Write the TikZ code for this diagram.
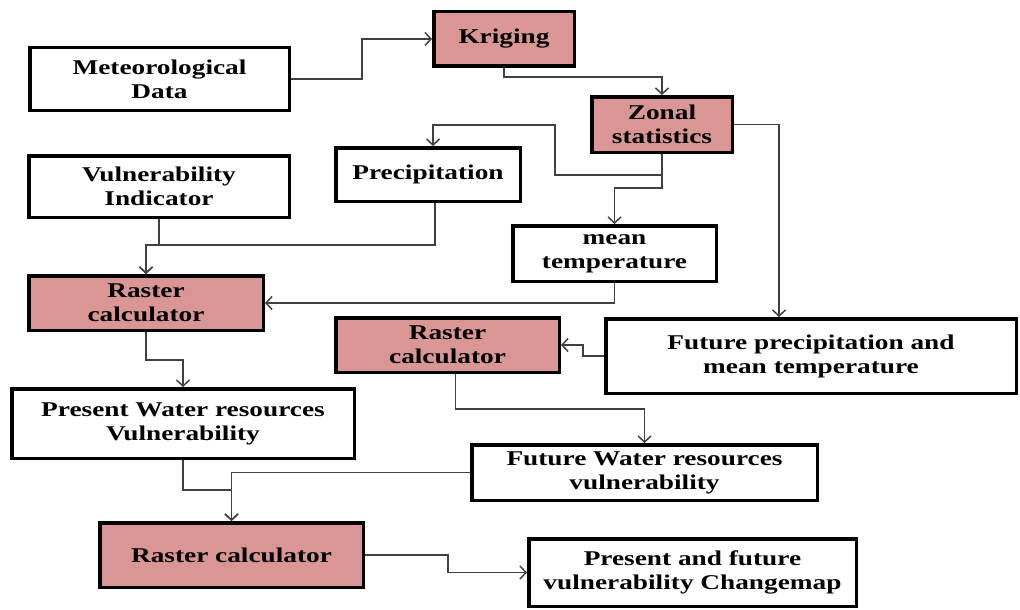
\documentclass[tikz,border=0pt]{standalone}
\usepackage{fontspec}
\usepackage{tikz}
\usepackage{xcolor}
\usetikzlibrary{positioning,arrows.meta}
\newfontfamily\boxfont{Liberation Serif}[FakeStretch=1.3]
\definecolor{toolpink}{HTML}{D99694}
\definecolor{linkgray}{HTML}{404040}
\begin{document}
\begin{tikzpicture}[x=1pt, y=-1pt, >={Straight Barb[length=6pt,width=13pt]},
   databox/.style={draw, line width=3.5pt, fill=white, align=center, inner sep=2pt,
      font=\boxfont\bfseries\fontsize{21}{24}\selectfont},
   toolbox/.style={databox, fill=toolpink},
   link/.style={draw=linkgray, line width=1.5pt}]
   \useasboundingbox (0,0) rectangle (1020,610);

   \node[databox, minimum width=259.5pt, minimum height=62.5pt] (met) at (159.5,79) {Meteorological\\Data};
   \node[toolbox, minimum width=140.5pt, minimum height=54.5pt] (krig) at (504,39) {Kriging};
   \node[toolbox, minimum width=140.5pt, minimum height=55.5pt] (zonal) at (662,124.5) {Zonal\\statistics};
   \node[databox, minimum width=260.5pt, minimum height=61.5pt] (vuln) at (159,186.5) {Vulnerability\\Indicator};
   \node[databox, minimum width=184.5pt, minimum height=53.5pt] (precip) at (428,174.5) {Precipitation};
   \node[databox, minimum width=203.5pt, minimum height=55.5pt] (meantemp) at (614.5,253.5) {mean\\temperature};
   \node[toolbox, minimum width=234.5pt, minimum height=54.5pt] (rc1) at (146,303) {Raster\\calculator};
   \node[toolbox, minimum width=223.5pt, minimum height=54.5pt] (rc2) at (447.5,345) {Raster\\calculator};
   \node[databox, minimum width=410.5pt, minimum height=74.5pt] (futprecip) at (811,356) {Future precipitation and\\mean temperature};
   \node[databox, minimum width=342.5pt, minimum height=69.5pt] (prewater) at (183,423.5) {Present Water resources\\Vulnerability};
   \node[databox, minimum width=345.5pt, minimum height=55.5pt] (futwater) at (644.5,472.5) {Future Water resources\\vulnerability};
   \node[toolbox, minimum width=263.5pt, minimum height=64.5pt] (rc3) at (231.5,555) {Raster calculator};
   \node[databox, minimum width=327.5pt, minimum height=67.5pt] (change) at (692.5,572.5) {Present and future\\vulnerability Changemap};

   \draw[link, ->] (met.east) -- ++(71,0) |- (krig.west);
   \draw[link, ->] (krig.south) -- ++(0,9) -| (zonal.north);
   \draw[link, ->] (zonal.south) -- ++(0,21) -| (555,125) -| ([xshift=5pt]precip.north);
   \draw[link, ->] (zonal.south) -- ++(0,34) -| (meantemp.north);
   \draw[link, ->] (zonal.east) -- ++(45,0) coordinate (zr) -- (zr |- futprecip.north);
   \draw[link, ->] (vuln.south) -- ++(0,26) -| (rc1.north);
   \draw[link, ->] ([xshift=7pt]precip.south) -- ++(0,42) -| (rc1.north);
   \draw[link, ->] (meantemp.south) |- (rc1.east);
   \draw[link, ->] (rc1.south) -- ++(0,28) -| (prewater.north);
   \draw[link, ->] (futprecip.west) -- ++(-21,0) |- (rc2.east);
   \draw[link, ->] ([xshift=8pt]rc2.south) -- ++(0,35) -| (futwater.north);
   \draw[link, ->] (prewater.south) -- ++(0,30) -| (rc3.north);
   \draw[link, ->] (futwater.west) -| (rc3.north);
   \draw[link, ->] (rc3.east) -- ++(83,0) |- (change.west);
\end{tikzpicture}
\end{document}
